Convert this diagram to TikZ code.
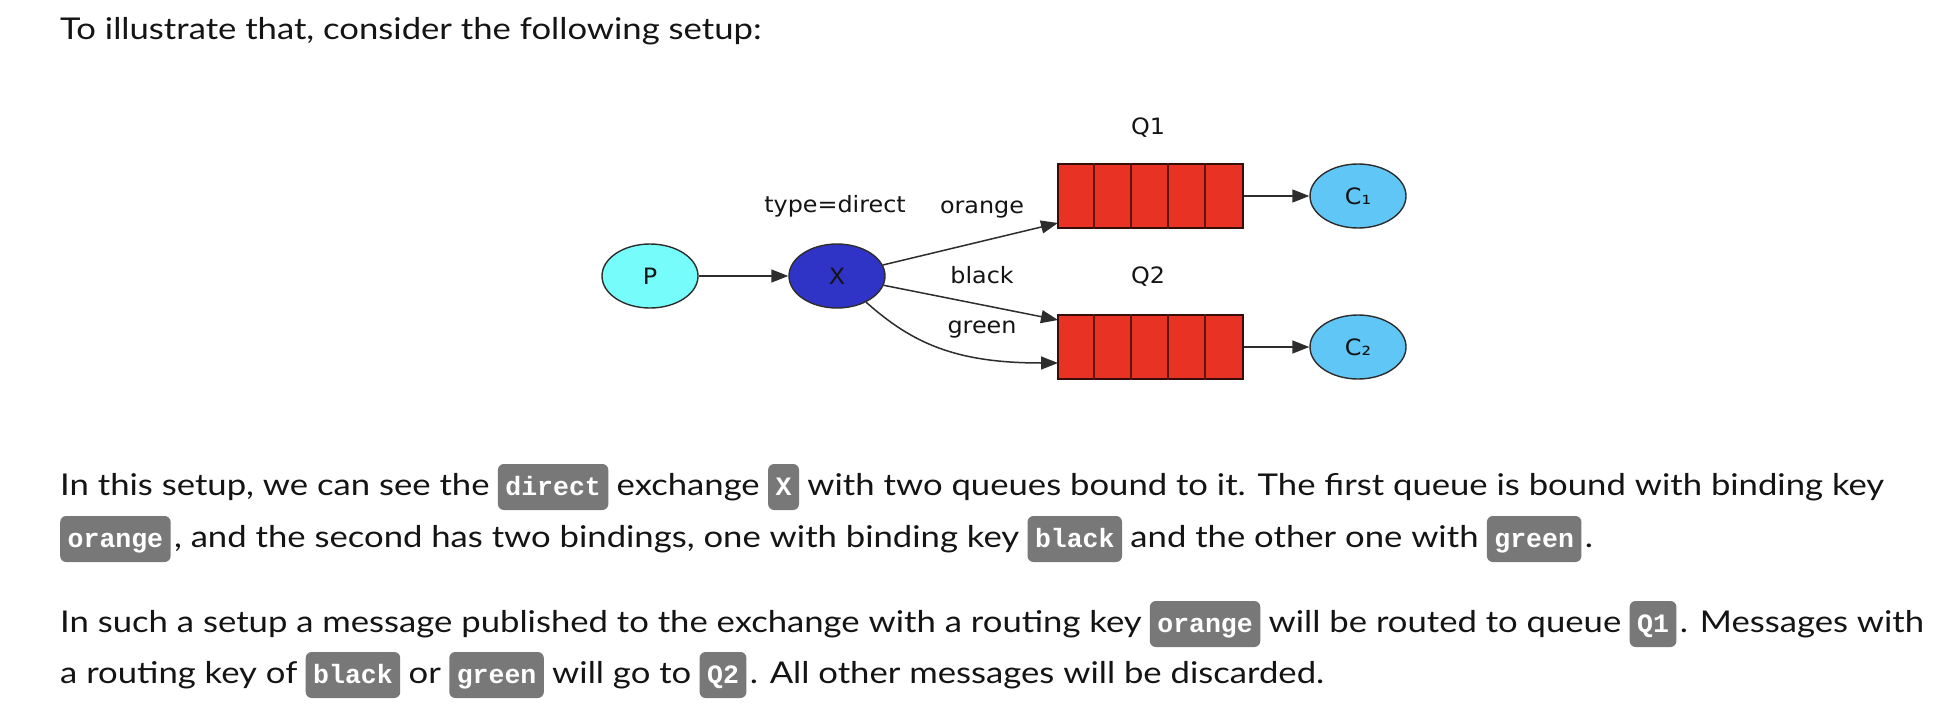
\documentclass[tikz,border=0pt]{standalone}
\usepackage{fontspec}
\setmainfont{Lato}[FakeStretch=1.155]
\newfontfamily\diafont{DejaVu Sans}[FakeStretch=1.06]
\newfontfamily\chipfam{Liberation Mono}
\usetikzlibrary{arrows.meta,shapes.geometric}
\definecolor{pcol}{RGB}{118,252,250}
\definecolor{xcol}{RGB}{48,52,198}
\definecolor{ccol}{RGB}{96,198,245}
\definecolor{qcol}{RGB}{232,50,36}
\definecolor{qline}{RGB}{90,22,14}
\definecolor{chipgray}{RGB}{120,120,120}
\definecolor{ink}{RGB}{20,20,20}
\definecolor{edgecol}{RGB}{45,45,45}
\begin{document}
\begin{tikzpicture}[x=1pt,y=-1pt,
  txt/.style={inner sep=0pt, anchor=base west, text=ink, font=\fontsize{30}{36}\selectfont},
  chip/.style={anchor=base west, fill=chipgray, rounded corners=6pt, text=white,
    font=\chipfam\bfseries\fontsize{26.5}{30}\selectfont, inner xsep=7.5pt, inner ysep=0pt,
    text height=31pt, text depth=15pt},
  ell/.style={ellipse, draw=edgecol, line width=1.4pt, minimum width=96pt, minimum height=64pt,
    inner sep=0pt, text=ink, font=\diafont\fontsize{22.5}{26}\selectfont},
  lbl/.style={font=\diafont\fontsize{22.5}{26}\selectfont, text=ink, inner sep=0pt},
  queue/.style={rectangle, fill=qcol, draw=qline!60!black, line width=1.2pt,
    minimum width=185pt, minimum height=64pt, inner sep=0pt},
  cell/.style={draw=qline, line width=2pt},
  flow/.style={draw=edgecol, line width=1.5pt, -{Triangle[length=17pt,width=13pt]}},
]
\fill[white] (0,0) rectangle (1950,714);
\useasboundingbox (0,0) rectangle (1950,714);

% heading
\node[txt] (h) at (60,40) {To illustrate that, consider the following setup:};

% diagram
\node[ell, fill=pcol] (P) at (650,276) {P};
\node[ell, fill=xcol] (X) at (837,276) {X};
\node[queue] (Q1) at (1150.5,196) {};
\node[queue] (Q2) at (1150.5,347) {};
\foreach \i in {1,...,4} {
  \draw[cell] ([xshift=\i*37pt]Q1.north west) -- ([xshift=\i*37pt]Q1.south west);
  \draw[cell] ([xshift=\i*37pt]Q2.north west) -- ([xshift=\i*37pt]Q2.south west);
}
\node[ell, fill=ccol] (C1) at (1358,196) {C₁};
\node[ell, fill=ccol] (C2) at (1358,347) {C₂};
\node[lbl] (q1l) at (1148,128) {Q1};
\node[lbl] (q2l) at (1148,277) {Q2};
\node[lbl] (tl) at (835,206) {type=direct};
\node[lbl] (ol) at (982,210) {orange};
\node[lbl] (bl) at (982,275) {black};
\node[lbl] (gl) at (982,330) {green};
\coordinate (o1) at (1058,223);
\coordinate (b1) at (1058,320);
\coordinate (g1) at (1058,363);
\draw[flow] (P) -- (X);
\draw[flow] (X) -- (o1);
\draw[flow] (X) -- (b1);
\draw[flow] (X.-42) .. controls (912,343) and (955,363) .. (g1);
\draw[flow] (Q1.east) -- (C1.west);
\draw[flow] (Q2.east) -- (C2.west);

% paragraph 1
\node[txt] (a1) at (60,495) {In this setup, we can see the};
\node[chip] (a2) at ([xshift=8pt]a1.base east) {direct};
\node[txt] (a3) at ([xshift=8pt]a2.base east) {exchange};
\node[chip] (a4) at ([xshift=8pt]a3.base east) {X};
\node[txt] (a5) at ([xshift=8pt]a4.base east) {with two queues bound to it. The first queue is bound with binding key};

\node[chip] (b1n) at (60,547) {orange};
\node[txt] (b2) at ([xshift=3pt]b1n.base east) {, and the second has two bindings, one with binding key};
\node[chip] (b3) at ([xshift=8pt]b2.base east) {black};
\node[txt] (b4) at ([xshift=8pt]b3.base east) {and the other one with};
\node[chip] (b5) at ([xshift=8pt]b4.base east) {green};
\node[txt] (b6) at ([xshift=3pt]b5.base east) {.};

% paragraph 2
\node[txt] (c1) at (60,632) {In such a setup a message published to the exchange with a routing key};
\node[chip] (c2) at ([xshift=8pt]c1.base east) {orange};
\node[txt] (c3) at ([xshift=8pt]c2.base east) {will be routed to queue};
\node[chip] (c4) at ([xshift=8pt]c3.base east) {Q1};
\node[txt] (c5) at ([xshift=3pt]c4.base east) {. Messages with};

\node[txt] (d1) at (60,683) {a routing key of};
\node[chip] (d2) at ([xshift=8pt]d1.base east) {black};
\node[txt] (d3) at ([xshift=8pt]d2.base east) {or};
\node[chip] (d4) at ([xshift=8pt]d3.base east) {green};
\node[txt] (d5) at ([xshift=8pt]d4.base east) {will go to};
\node[chip] (d6) at ([xshift=8pt]d5.base east) {Q2};
\node[txt] (d7) at ([xshift=3pt]d6.base east) {. All other messages will be discarded.};
\end{tikzpicture}
\end{document}
